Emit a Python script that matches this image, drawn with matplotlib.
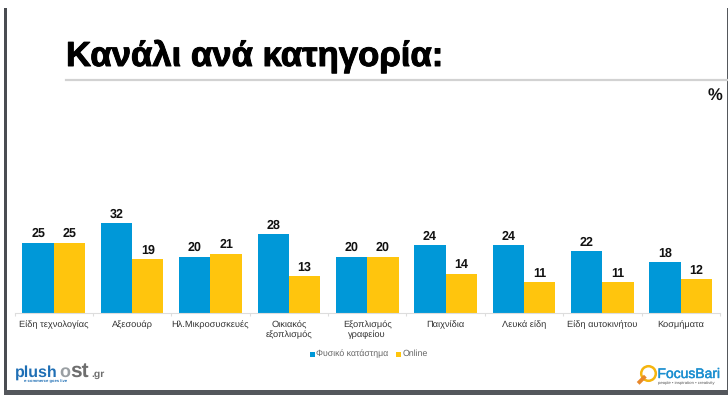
import matplotlib
matplotlib.use("Agg")
import matplotlib.pyplot as plt
from matplotlib.patches import Rectangle
from matplotlib.lines import Line2D
import matplotlib.patheffects as pe
import numpy as np

categories = ["Είδη τεχνολογίας", "Αξεσουάρ", "Ηλ.Μικροσυσκευές", "Οικιακός\nεξοπλισμός",
              "Εξοπλισμός\nγραφείου", "Παιχνίδια", "Λευκά είδη", "Είδη αυτοκινήτου", "Κοσμήματα"]
store = [25, 32, 20, 28, 20, 24, 24, 22, 18]
online = [25, 19, 21, 13, 20, 14, 11, 11, 12]
series_names = ["Φυσικό κατάστημα", "Online"]
title = "Κανάλι ανά κατηγορία:"
BLUE, YELLOW = "#0098D8", "#FFC50D"
W, H = 728, 395
plt.rcParams['font.family'] = ['Liberation Sans', 'DejaVu Sans']
plt.rcParams['text.hinting'] = 'no_hinting'

fig = plt.figure(figsize=(W/100, H/100), dpi=100, facecolor="white")
def fx(x): return x/W
def fy(y): return 1-y/H
def heavy(w, c):
    return [pe.withStroke(linewidth=w, foreground=c)]

# slide frame
for (x0, y0, x1, y1, c) in [(3.5, 8, 7, 391, "#4A4D52"), (3.5, 389.5, 728, 395, "#54575C"), (727, 8, 728, 391, "#55585C")]:
    fig.add_artist(Rectangle((fx(x0), fy(y1)), (x1-x0)/W, (y1-y0)/H, transform=fig.transFigure, color=c, lw=0))

t = fig.text(fx(66), fy(66), title, fontsize=25, fontweight="bold", color="black", va="baseline", ha="left")
t.set_path_effects(heavy(0.7, "black"))
fig.add_artist(Line2D([fx(66), fx(727)], [fy(79.5)]*2, color="#D2D2D2", lw=1.6))
fig.text(fx(715), fy(95), "%", fontsize=12, fontweight="bold", ha="center", va="center", color="#111111")

# chart
ax_l, ax_r, ax_b, ax_t = 14.5, 720, 313, 100
ax = fig.add_axes([fx(ax_l), fy(ax_b), (ax_r-ax_l)/W, (ax_b-ax_t)/H])
x = np.arange(len(categories))
bw = 0.4
ax.bar(x-bw/2, store, bw, color=BLUE, label=series_names[0])
ax.bar(x+bw/2, online, bw, color=YELLOW, label=series_names[1])
ax.set_xlim(-0.5, len(categories)-0.5)
ax.set_ylim(0, (ax_b-ax_t)/2.82)
ax.patch.set_alpha(0)
for s in ["top", "left", "right"]:
    ax.spines[s].set_visible(False)
ax.spines["bottom"].set_color("#DDDDDD")
ax.spines["bottom"].set_linewidth(0.8)
ax.set_yticks([])
ax.set_xticks(np.arange(len(categories)+1)-0.5, labels=[""]*(len(categories)+1))
ax.tick_params(axis="x", length=2.5, color="#DDDDDD", width=0.8)
ax.set_xticks(x, labels=categories, minor=True)
ax.tick_params(axis="x", which="minor", length=0, pad=5.5, labelsize=6.7, labelcolor="#333333")
for xi, a, b in zip(x, store, online):
    for xp, v in ((xi-bw/2, a), (xi+bw/2, b)):
        ax.text(xp, v+1.9, str(v), ha="center", va="baseline", fontsize=9, fontweight="bold", color="#111111")

# legend
for (px, c, label) in [(309.5, BLUE, series_names[0]), (396, YELLOW, series_names[1])]:
    fig.add_artist(Rectangle((fx(px), fy(356.5)), 5/W, 5/H, transform=fig.transFigure, color=c, lw=0))
    fig.text(fx(px+7), fy(354), label, fontsize=6.3, color="#666666", va="center", ha="left")

# logos
for px, s, col, size in [(15, "plush", "#1F6FB5", 11.5), (59, "o", "#9A9FA3", 13), (70.5, "st", "#6E6E6E", 15), (91.5, ".gr", "#6E6E6E", 7.5)]:
    fig.text(fx(px), fy(377), s, fontsize=size, fontweight="bold", color=col, va="baseline")
fig.text(fx(24), fy(382.5), "e-commerce goes live", fontsize=3, color="#1F6FB5", va="baseline", fontweight="bold")
fig.text(fx(657.5), fy(378), "FocusBari", fontsize=10, color="#1B8FD0", va="baseline").set_path_effects(heavy(0.3, "#1B8FD0"))
fig.add_artist(Line2D([fx(648)], [fy(372.5)], marker="o", ms=10.5, mfc="white", mec="#F5B50F", mew=1.8))
fig.add_artist(Line2D([fx(639.5), fx(644)], [fy(382), fy(377.5)], color="#E8872A", lw=2.8))
fig.text(fx(658), fy(384.5), "people • inspiration • creativity", fontsize=3.1, color="#555555", va="baseline")

fig.savefig("out.png", dpi=100)
